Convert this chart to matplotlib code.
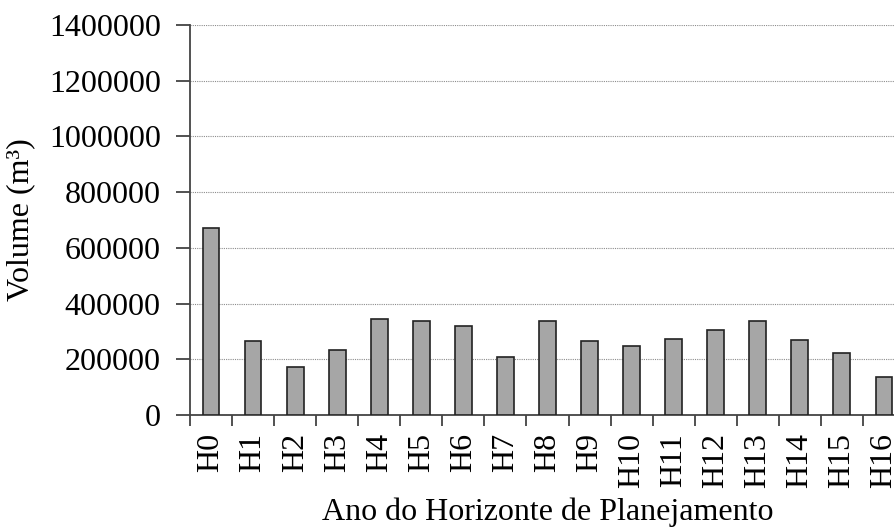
import matplotlib
matplotlib.use("Agg")
import matplotlib.pyplot as plt

# horizon years and volumes (m3)
anos = ["H0", "H1", "H2", "H3", "H4", "H5", "H6", "H7", "H8",
        "H9", "H10", "H11", "H12", "H13", "H14", "H15", "H16"]
volumes = [670000, 265000, 173000, 233000, 346000, 338000, 320000, 209000,
           338000, 265000, 247000, 274000, 305000, 338000, 269000, 224000, 136000]
yticks = [0, 200000, 400000, 600000, 800000, 1000000, 1200000, 1400000]

plt.rcParams["font.family"] = ["Liberation Serif", "DejaVu Serif"]

fig = plt.figure(figsize=(8.94, 5.27), dpi=100)
# axis runs a bit past the right edge, like the cropped original
ax = fig.add_axes([0.2125, 0.2125, 0.7998, 0.74])

x = list(range(len(anos)))
ax.bar(x, volumes, width=0.4, color="#a6a6a6", edgecolor="#222222",
       linewidth=1.2, zorder=3)

ax.set_xlim(-0.5, len(anos) - 0.5)
ax.set_ylim(0, 1400000)
ax.set_yticks(yticks)
ax.set_yticklabels([str(v) for v in yticks])

# ticks between categories, labels centred under bars
ax.set_xticks([i - 0.5 for i in range(len(anos) + 1)])
ax.set_xticklabels([])
ax.set_xticks(x, minor=True)
ax.set_xticklabels(anos, minor=True, rotation=90)
ax.tick_params(axis="x", which="major", length=8, width=1.2, color="#333333")
ax.tick_params(axis="x", which="minor", length=0, pad=13, labelsize=23)
ax.tick_params(axis="y", length=10, width=1.2, color="#333333", pad=11, labelsize=23)

ax.grid(axis="y", linestyle=(0, (1, 1)), color="#8c8c8c", linewidth=0.8, zorder=0)

for s in ["top", "right"]:
    ax.spines[s].set_visible(False)
for s in ["left", "bottom"]:
    ax.spines[s].set_color("#444444")
    ax.spines[s].set_linewidth(1.3)

ax.set_ylabel("Volume (m³)", fontsize=23, labelpad=10)
ax.set_xlabel("Ano do Horizonte de Planejamento", fontsize=23, labelpad=7)

fig.savefig("out.png", dpi=100)
